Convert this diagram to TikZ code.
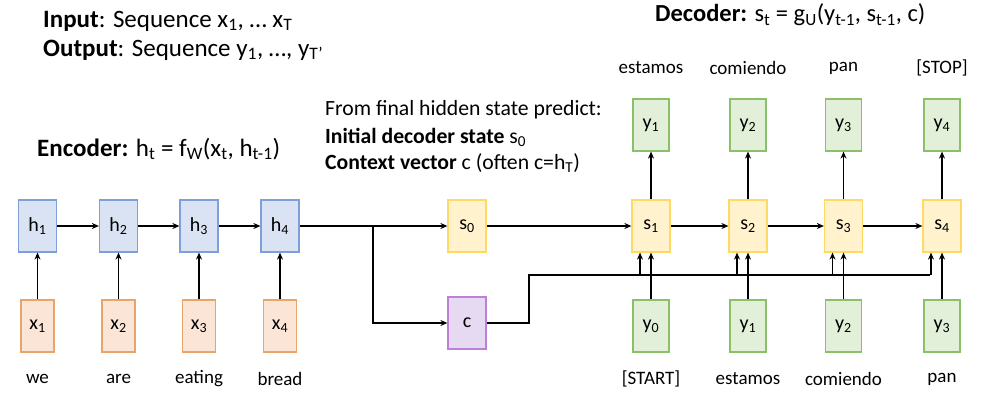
\documentclass[tikz,border=0pt]{standalone}
\usepackage{fontspec}
\setmainfont{Carlito}
\usetikzlibrary{arrows.meta}
\definecolor{hfill}{HTML}{DAE3F3}\definecolor{hdraw}{HTML}{7F9FD9}
\definecolor{xfill}{HTML}{FBE5D6}\definecolor{xdraw}{HTML}{E9A46A}
\definecolor{sfill}{HTML}{FFF2CC}\definecolor{sdraw}{HTML}{FFD966}
\definecolor{cfill}{HTML}{E6DAF2}\definecolor{cdraw}{HTML}{BE7FD8}
\definecolor{yfill}{HTML}{E2F0D9}\definecolor{ydraw}{HTML}{8BC06B}
\newcommand{\subs}[1]{\textsubscript{#1}}
\tikzset{
  box/.style={draw, line width=1.2pt, minimum width=38pt, minimum height=52pt, inner sep=0pt, font=\fontsize{20}{24}\selectfont},
  hbox/.style={box, fill=hfill, draw=hdraw},
  xbox/.style={box, fill=xfill, draw=xdraw, minimum width=33pt},
  sbox/.style={box, fill=sfill, draw=sdraw},
  cbox/.style={box, fill=cfill, draw=cdraw},
  ybox/.style={box, fill=yfill, draw=ydraw, minimum width=36pt},
  word/.style={font=\fontsize{19}{23}\selectfont, inner sep=0pt},
  arr/.style={line width=1.6pt, -{Stealth[length=7pt,width=6pt]}},
  ln/.style={line width=1.6pt},
  title/.style={anchor=west, inner sep=0pt, font=\fontsize{25}{30}\selectfont},
  note/.style={anchor=west, inner sep=0pt, font=\fontsize{21.7}{26}\selectfont},
}
\begin{document}
\begin{tikzpicture}[x=1pt,y=-1pt]
\useasboundingbox (0,0) rectangle (984,404);
% titles
\node[title] (tin) at (43,21) {\textbf{Input}: Sequence x\subs{1}, … x\subs{T}};
\node[title] (tout) at (43,50) {\textbf{Output}: Sequence y\subs{1}, …, y\subs{T’}};
\node[title, font=\fontsize{24.5}{29}\selectfont] (tdec) at (655,15) {\textbf{Decoder:} s\subs{t} = g\subs{U}(y\subs{t-1}, s\subs{t-1}, c)};
\node[title] (tenc) at (37,149) {\textbf{Encoder:} h\subs{t} = f\subs{W}(x\subs{t}, h\subs{t-1})};
\node[note] (n1) at (325,110) {From final hidden state predict:};
\node[note] (n2) at (325,137) {\textbf{Initial decoder state} s\subs{0}};
\node[note] (n3) at (325,163) {\textbf{Context vector} c (often c=h\subs{T})};
% encoder
\node[hbox] (h1) at (37.5,226) {h\subs{1}};
\node[hbox] (h2) at (118.5,226) {h\subs{2}};
\node[hbox] (h3) at (199,226) {h\subs{3}};
\node[hbox] (h4) at (280,226) {h\subs{4}};
\node[xbox] (x1) at (37.5,326) {x\subs{1}};
\node[xbox] (x2) at (118.5,326) {x\subs{2}};
\node[xbox] (x3) at (199,326) {x\subs{3}};
\node[xbox] (x4) at (280,326) {x\subs{4}};
\node[word] (w1) at (37.5,379) {we};
\node[word] (w2) at (118.5,379) {are};
\node[word] (w3) at (199,379) {eating};
\node[word] (w4) at (280,379) {bread};
% bridge
\node[sbox] (s0) at (467,226) {s\subs{0}};
\node[cbox] (c) at (467,323) {c};
\coordinate (br) at (373,226);
\coordinate (cup) at (529,275);
\coordinate (ce) at (930,275);
% decoder
\node[sbox] (s1) at (651,226) {s\subs{1}};
\node[sbox] (s2) at (748,226) {s\subs{2}};
\node[sbox] (s3) at (843.5,226) {s\subs{3}};
\node[sbox] (s4) at (942,226) {s\subs{4}};
\node[ybox] (y0) at (651,326) {y\subs{0}};
\node[ybox] (y1) at (748,326) {y\subs{1}};
\node[ybox] (y2) at (843.5,326) {y\subs{2}};
\node[ybox] (y3) at (942,326) {y\subs{3}};
\node[ybox] (o1) at (651,125) {y\subs{1}};
\node[ybox] (o2) at (748,125) {y\subs{2}};
\node[ybox] (o3) at (843.5,125) {y\subs{3}};
\node[ybox] (o4) at (942,125) {y\subs{4}};
\node[word] (b1) at (651,379) {[START]};
\node[word] (b2) at (748,379) {estamos};
\node[word] (b3) at (843.5,379) {comiendo};
\node[word] (b4) at (942,379) {pan};
\node[word] (t1) at (651,68) {estamos};
\node[word] (t2) at (748,68) {comiendo};
\node[word] (t3) at (843.5,68) {pan};
\node[word] (t4) at (942,68) {[STOP]};
% connectors
\foreach \i in {1,...,4} \draw[arr] (x\i) -- (h\i);
\draw[arr] (h1) -- (h2);
\draw[arr] (h2) -- (h3);
\draw[arr] (h3) -- (h4);
\draw[ln] (h4) -- (br);
\draw[arr] (br) -- (s0);
\draw[arr] (br) |- (c);
\draw[arr] (s0) -- (s1);
\draw[arr] (s1) -- (s2);
\draw[arr] (s2) -- (s3);
\draw[arr] (s3) -- (s4);
\draw[ln] (c.east) -| (cup) -- (ce);
\foreach \i/\j in {0/1,1/2,2/3,3/4} {
  \draw[arr] (y\i) -- (s\j);
  \draw[arr] ([xshift=-11pt]s\j.south |- ce) -- ([xshift=-11pt]s\j.south);
  \draw[arr] (s\j) -- (o\j);
}
\end{tikzpicture}
\end{document}
